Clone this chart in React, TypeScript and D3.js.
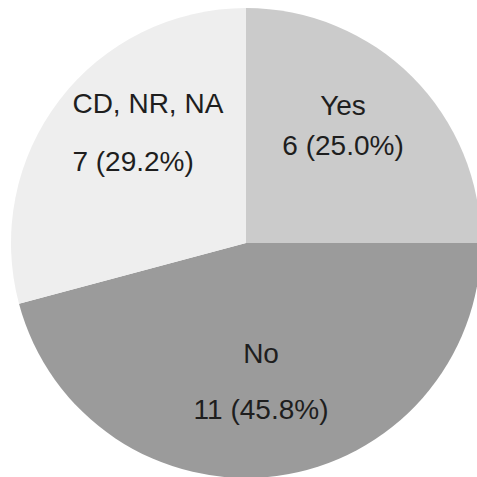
import React from 'react';
import * as d3 from 'd3';

// slice data, clockwise from 12 o'clock
const categories = ['Yes', 'No', 'CD, NR, NA'];
const counts = [6, 11, 7];
const percentLabels = ['25.0%', '45.8%', '29.2%'];
const fills = ['#cbcbcb', '#9b9b9b', '#eeeeee'];

// label layout: offsets from the label-arc centroid, and gap between the two lines
const labelLayout = [
  { dx: -6, dy: -15, gap: 40, anchor: 'middle' },
  { dx: -4, dy: -6, gap: 56, anchor: 'middle' },
  { dx: -58, dy: -22, gap: 58, anchor: 'start' },
];

const W = 477;
const H = 477;
const cx = 246;
const cy = 243;
const R = 235;

export default function App() {
  const pie = d3.pie<number>().sort(null).value(d => d);
  const arcs = pie(counts);
  const arc = d3.arc<d3.PieArcDatum<number>>().innerRadius(0).outerRadius(R);
  const labelArc = d3.arc<d3.PieArcDatum<number>>().innerRadius(R * 0.62).outerRadius(R * 0.62);

  return (
    <svg
      width={W}
      height={H}
      style={{ position: 'absolute', left: 0, top: 0, background: '#fff' }}
      fontFamily="'Liberation Sans', Arial, sans-serif"
    >
      <g transform={`translate(${cx},${cy})`}>
        {arcs.map((a, i) => (
          <path key={categories[i]} d={arc(a) || ''} fill={fills[i]} />
        ))}
        {arcs.map((a, i) => {
          const [lx, ly] = labelArc.centroid(a);
          const L = labelLayout[i];
          const x = lx + L.dx;
          const y = ly + L.dy;
          return (
            <text key={'t' + i} fontSize={28} fill="#1e1e1e" textAnchor={L.anchor}>
              <tspan x={x} y={y - L.gap / 2 + 10}>{categories[i]}</tspan>
              <tspan x={x} y={y + L.gap / 2 + 10}>{`${counts[i]} (${percentLabels[i]})`}</tspan>
            </text>
          );
        })}
      </g>
    </svg>
  );
}
